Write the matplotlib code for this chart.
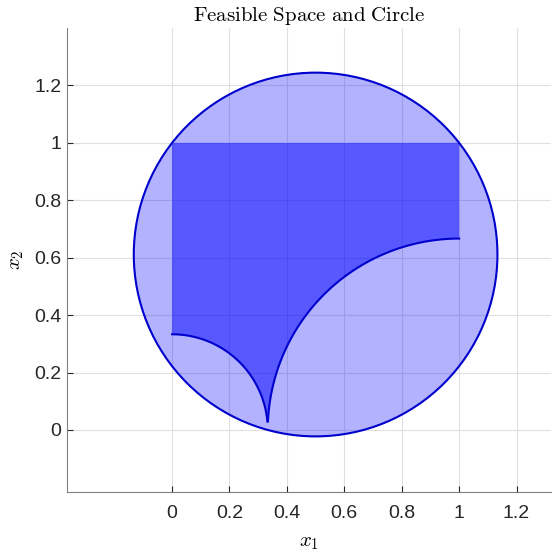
import numpy as np
import matplotlib
matplotlib.use("Agg")
import matplotlib.pyplot as plt

plt.rcParams['mathtext.fontset'] = 'cm'
plt.rcParams['font.family'] = ['Liberation Sans', 'DejaVu Sans']

# enclosing circle
circle_center = (0.5, 0.6111)
circle_radius = 0.6334

# feasible space: unit square outside two circles
box_x = [0.0, 1.0]
box_y = [0.0, 1.0]
small_center = (0.0, 0.0)
small_radius = 1 / 3
big_center = (1.0, 0.0)
big_radius = 2 / 3
cusp_y = 0.03  # where the sampled boundary stops near the cusp

xticks = [0, 0.2, 0.4, 0.6, 0.8, 1, 1.2]
yticks = [0, 0.2, 0.4, 0.6, 0.8, 1, 1.2]
tick_labels = ["0", "0.2", "0.4", "0.6", "0.8", "1", "1.2"]

fig = plt.figure(figsize=(5.52, 5.58), dpi=100)
ax = fig.add_axes([67 / 552, 1 - 492 / 558, (551 - 67) / 552, (492 - 28) / 558])

# circle (fill first, edge later on top)
circ_fill = plt.Circle(circle_center, circle_radius, facecolor=(0, 0, 1), alpha=0.3, lw=0)
circ_edge = plt.Circle(circle_center, circle_radius, fill=False, edgecolor=(0, 0, 0.8), lw=1.5)
ax.add_patch(circ_fill)

# boundary arcs
t_big_end = np.pi - np.arcsin(cusp_y / big_radius)
tb = np.linspace(np.pi / 2, t_big_end, 200)
big_x = big_center[0] + big_radius * np.cos(tb)
big_y = big_center[1] + big_radius * np.sin(tb)
t_small_start = np.arcsin(cusp_y / small_radius)
ts = np.linspace(t_small_start, np.pi / 2, 200)
small_x = small_center[0] + small_radius * np.cos(ts)
small_y = small_center[1] + small_radius * np.sin(ts)

px = np.concatenate([[box_x[0], box_x[1]], big_x, small_x, [box_x[0]]])
py = np.concatenate([[box_y[1], box_y[1]], big_y, small_y, [box_y[1]]])
ax.fill(px, py, color=(0, 0, 1), alpha=0.5, lw=0)
ax.add_patch(circ_edge)
ax.plot(big_x, big_y, color=(0, 0, 0.8), lw=1.5)
ax.plot(small_x, small_y, color=(0, 0, 0.8), lw=1.5)

ax.set_xlim(-0.366, 1.32)
ax.set_ylim(-0.216, 1.40)
ax.set_xticks(xticks)
ax.set_xticklabels(tick_labels)
ax.set_yticks(yticks)
ax.set_yticklabels(tick_labels)
ax.tick_params(direction='in', length=4, labelsize=14, colors='#262626')
ax.tick_params(axis='x', pad=9)
ax.tick_params(axis='y', pad=4)
ax.grid(True, color='#e0e0e0', lw=0.8)
ax.set_axisbelow(True)
for s in ['top', 'right']:
    ax.spines[s].set_visible(False)
for s in ['left', 'bottom']:
    ax.spines[s].set_color('#808080')

ax.set_title(r'$\mathrm{Feasible\ Space\ and\ Circle}$', fontsize=15, pad=5)
ax.set_xlabel(r'$x_1$', fontsize=15, labelpad=8)
ax.set_ylabel(r'$x_2$', fontsize=15, labelpad=6)

fig.savefig("out.png", dpi=100)
